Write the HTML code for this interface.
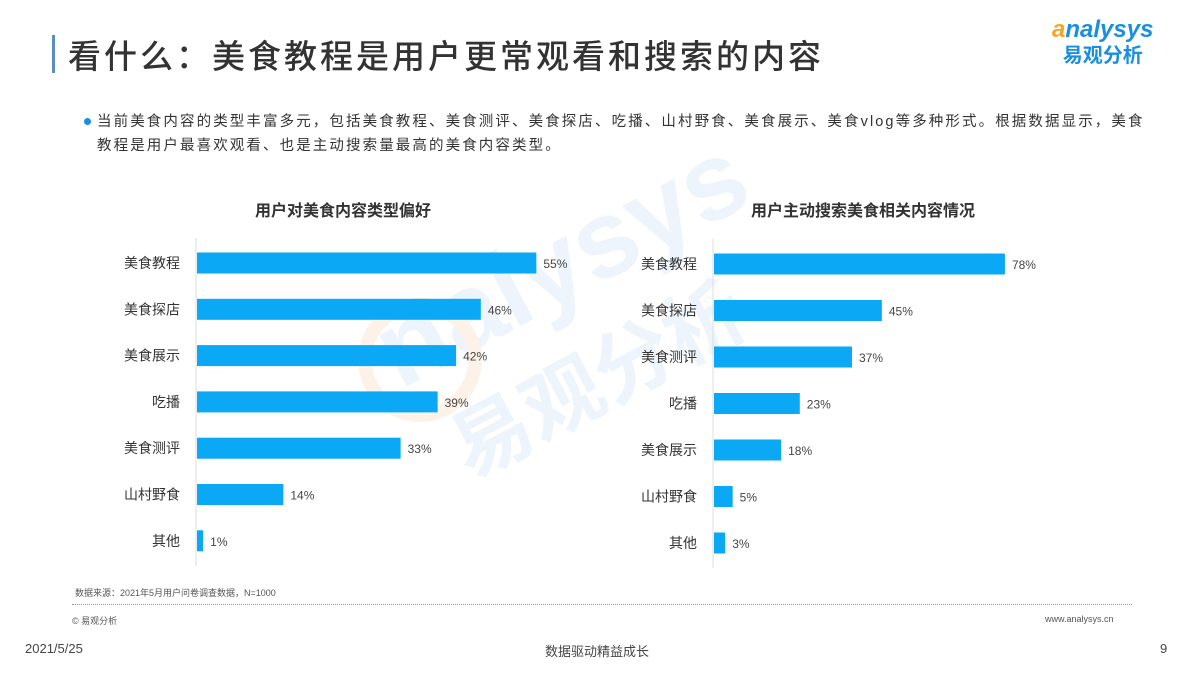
<!DOCTYPE html>
<html><head><meta charset="utf-8">
<style>
body{margin:0;width:1200px;height:675px;background:#fff;position:relative;overflow:hidden;font-family:"Liberation Sans","Noto Sans CJK SC",sans-serif;color:#333}
.abs{position:absolute;white-space:nowrap}
</style></head><body>
<div class="abs" style="left:52px;top:35px;width:3px;height:38px;background:#5b8fc0"></div>
<div class="abs" style="left:68px;top:30px;font-size:33px;font-weight:500;color:#333;letter-spacing:3px">看什么：美食教程是用户更常观看和搜索的内容</div>
<div class="abs" style="left:1052px;top:18px;text-align:center;line-height:1">
<div style="font-size:24px;color:#1a8fe0;font-style:italic;font-weight:bold"><span style="color:#f5a623">a</span>nalysys</div>
<div style="font-size:20px;color:#1a8fe0;font-weight:bold;margin-top:4px">易观分析</div></div>
<div class="abs" style="left:84px;top:118px;width:7px;height:7px;border-radius:50%;background:#1a8fe0"></div>
<div class="abs" style="left:97px;top:110px;font-size:14.5px;line-height:24px;color:#333;letter-spacing:2.1px">当前美食内容的类型丰富多元，包括美食教程、美食测评、美食探店、吃播、山村野食、美食展示、美食vlog等多种形式。根据数据显示，美食<br>教程是用户最喜欢观看、也是主动搜索量最高的美食内容类型。</div>
<svg class="abs" style="left:0;top:0" width="1200" height="675" id="chart">
<g opacity="0.5">
<text x="400" y="390" font-size="110" fill="#dcebf8" font-weight="bold" transform="rotate(-28 400 390)">nalysys</text>
<text x="470" y="480" font-size="80" fill="#dcebf8" font-weight="bold" transform="rotate(-28 470 480)">易观分析</text>
<circle cx="420" cy="360" r="55" fill="none" stroke="#fbe7d0" stroke-width="14"/>
</g>
<text x="343" y="216" font-size="16" font-weight="bold" fill="#333" text-anchor="middle">用户对美食内容类型偏好</text>
<text x="863" y="216" font-size="16" font-weight="bold" fill="#333" text-anchor="middle">用户主动搜索美食相关内容情况</text>
</svg>
<div class="abs" style="left:75px;top:586px;font-size:9px;color:#555">数据来源：2021年5月用户问卷调查数据，N=1000</div>
<div class="abs" style="left:72px;top:604px;width:1060px;border-top:1px dotted #999"></div>
<div class="abs" style="left:72px;top:614px;font-size:9px;color:#555">© 易观分析</div>
<div class="abs" style="left:1045px;top:614px;font-size:9px;color:#555">www.analysys.cn</div>
<div class="abs" style="left:25px;top:641px;font-size:13px;color:#444">2021/5/25</div>
<div class="abs" style="left:545px;top:641px;font-size:13px;color:#444">数据驱动精益成长</div>
<div class="abs" style="left:1160px;top:641px;font-size:13px;color:#444">9</div>
<script>
const leftCats=["美食教程","美食探店","美食展示","吃播","美食测评","山村野食","其他"];
const leftVals=[55,46,42,39,33,14,1];
const rightCats=["美食教程","美食探店","美食测评","吃播","美食展示","山村野食","其他"];
const rightVals=[78,45,37,23,18,5,3];
const NS="http://www.w3.org/2000/svg";
const svg=document.getElementById('chart');
function mk(t,a){const e=document.createElementNS(NS,t);for(const k in a)e.setAttribute(k,a[k]);svg.appendChild(e);return e;}
function draw(cats,vals,x0,pxPer,y0,step,prefix){
  const ax=mk('line',{x1:x0,x2:x0,y1:y0-25,y2:y0+step*(cats.length-1)+25,stroke:'#ddd','stroke-width':1});
  
  
  cats.forEach((c,i)=>{
    const cy=y0+i*step, w=vals[i]*pxPer;
    const r=mk('rect',{x:x0+1,y:cy-10.5,width:w,height:21,fill:'#0aa8f5'});
    
    
    const l=mk('text',{x:x0-16,y:cy+5,'font-size':14,fill:'#333','text-anchor':'end'});l.textContent=c;
    
    
    const v=mk('text',{x:x0+w+8,y:cy+5,'font-size':12,fill:'#444'});v.textContent=vals[i]+'%';
    
    
  });
}
draw(leftCats,leftVals,196,6.17,263,46.3,'left');
draw(rightCats,rightVals,713,3.73,264,46.5,'right');
</script>
</body></html>
